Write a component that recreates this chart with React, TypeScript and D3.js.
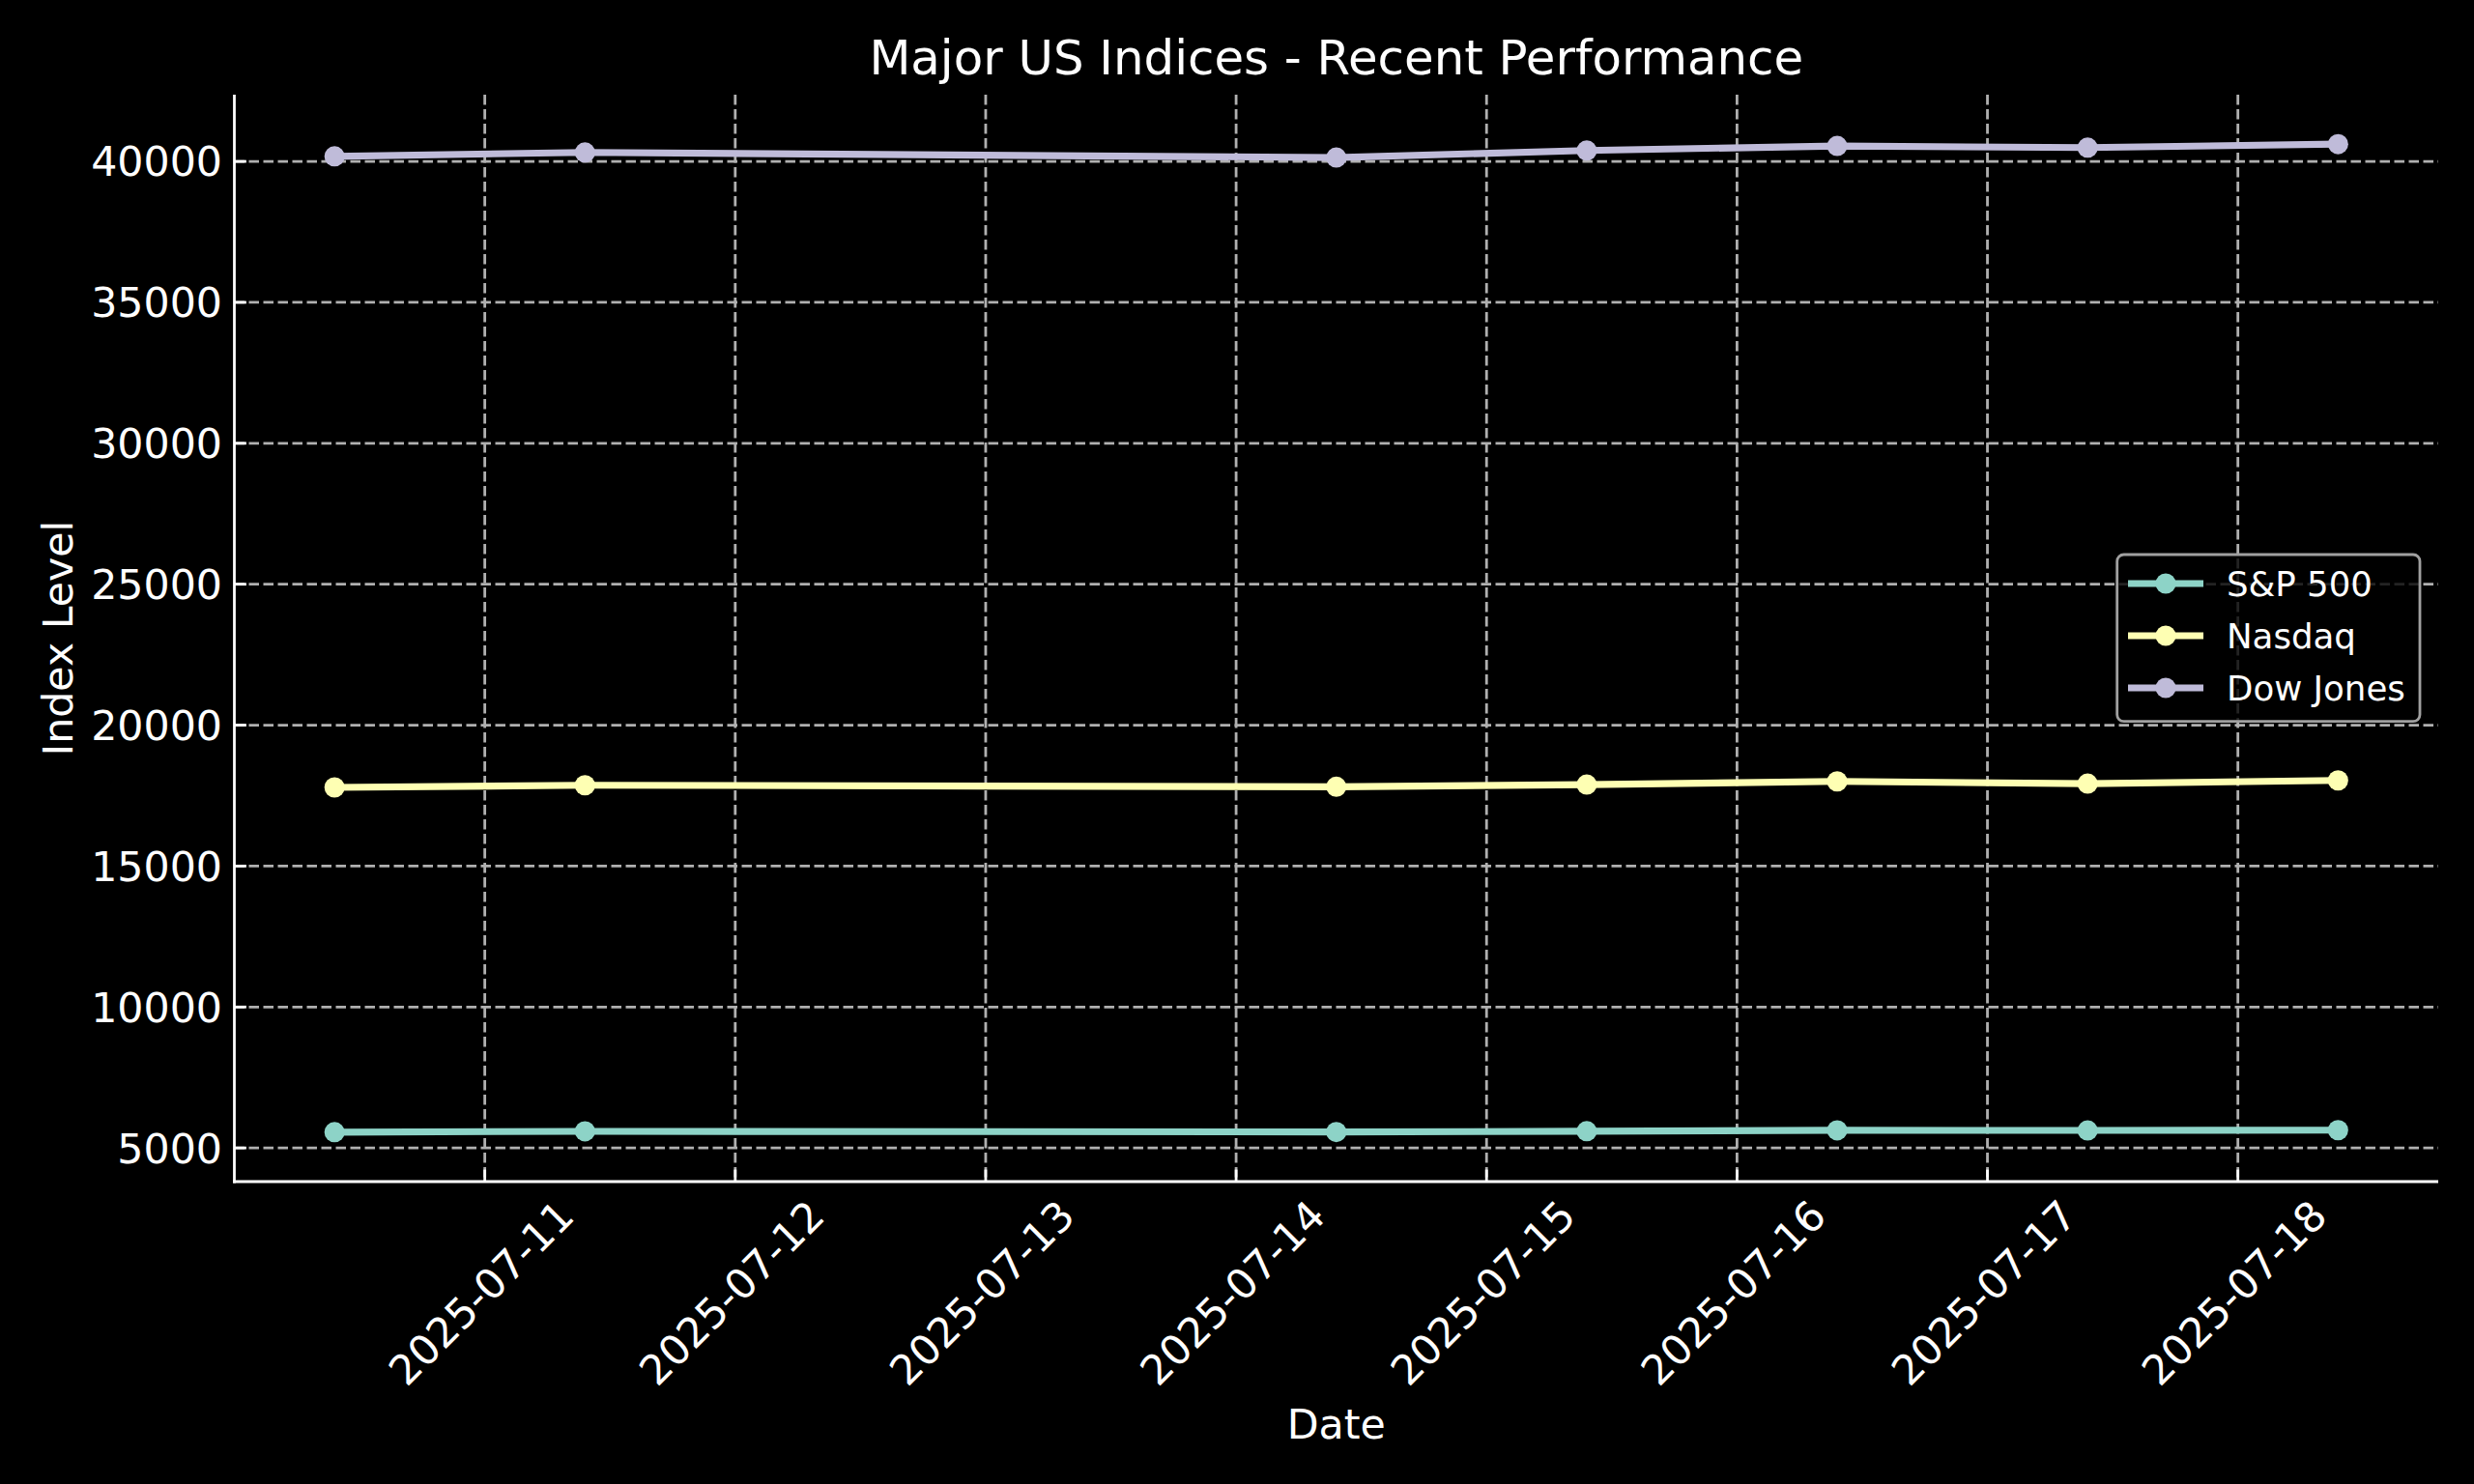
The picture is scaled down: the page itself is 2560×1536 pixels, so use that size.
import React from "react";
import * as d3 from "d3";

const dates: string[] = [
  "2025-07-10T09:36",
  "2025-07-11T09:36",
  "2025-07-14T09:36",
  "2025-07-15T09:36",
  "2025-07-16T09:36",
  "2025-07-17T09:36",
  "2025-07-18T09:36",
];
const sp500: number[] = [5558, 5590, 5565, 5592, 5625, 5620, 5630];
const nasdaq: number[] = [17790, 17868, 17812, 17890, 18004, 17925, 18038];
const dow: number[] = [40180, 40318, 40137, 40386, 40547, 40489, 40615];

const seriesNames: string[] = ["S&P 500", "Nasdaq", "Dow Jones"];
const seriesColors: string[] = ["#8dd3c7", "#feffb3", "#bfbbd9"];
const yTicks: number[] = [5000, 10000, 15000, 20000, 25000, 30000, 35000, 40000];
const xTickDates: string[] = [
  "2025-07-11",
  "2025-07-12",
  "2025-07-13",
  "2025-07-14",
  "2025-07-15",
  "2025-07-16",
  "2025-07-17",
  "2025-07-18",
];

const W = 2560;
const H = 1536;
const M = { left: 242.5, right: 2523, top: 98, bottom: 1223 };
const FONT = "DejaVu Sans, Verdana, sans-serif";

export default function App() {
  const parseT = d3.timeParse("%Y-%m-%dT%H:%M");
  const parseD = d3.timeParse("%Y-%m-%d");
  const xs = dates.map((d) => parseT(d) as Date);
  const allSeries = [sp500, nasdaq, dow];

  const [x0, x1] = d3.extent(xs) as [Date, Date];
  const xPad = (x1.getTime() - x0.getTime()) * 0.05;
  const x = d3
    .scaleTime()
    .domain([new Date(x0.getTime() - xPad), new Date(x1.getTime() + xPad)])
    .range([M.left, M.right]);

  const allVals = allSeries.flat();
  const [y0, y1] = d3.extent(allVals) as [number, number];
  const yPad = (y1 - y0) * 0.05;
  const y = d3.scaleLinear().domain([y0 - yPad, y1 + yPad]).range([M.bottom, M.top]);

  const line = d3
    .line<number>()
    .x((_, i) => x(xs[i]))
    .y((v) => y(v));

  const gridStroke = "#b0b0b0";
  const dash = "10.5,4.5";

  const legendX = 2190.7;
  const legendY = 574;
  const legendRows = [604, 658, 712];

  return (
    <svg
      width={W}
      height={H}
      viewBox={`0 0 ${W} ${H}`}
      style={{ position: "absolute", left: 0, top: 0, display: "block" }}
      fontFamily={FONT}
    >
      <rect x={0} y={0} width={W} height={H} fill="#000" />

      {/* grid */}
      {xTickDates.map((d) => {
        const px = x(parseD(d) as Date);
        return (
          <line
            key={"gx" + d}
            x1={px}
            x2={px}
            y1={M.top}
            y2={M.bottom}
            stroke={gridStroke}
            strokeWidth={2.8}
            strokeDasharray={dash}
          />
        );
      })}
      {yTicks.map((t) => (
        <line
          key={"gy" + t}
          x1={M.left}
          x2={M.right}
          y1={y(t)}
          y2={y(t)}
          stroke={gridStroke}
          strokeWidth={2.8}
          strokeDasharray={dash}
        />
      ))}

      {/* series */}
      {allSeries.map((vals, si) => (
        <g key={"s" + si}>
          <path
            d={line(vals) as string}
            fill="none"
            stroke={seriesColors[si]}
            strokeWidth={7.1}
            strokeLinejoin="round"
            strokeLinecap="butt"
          />
          {vals.map((v, i) => (
            <circle key={i} cx={x(xs[i])} cy={y(v)} r={10.5} fill={seriesColors[si]} />
          ))}
        </g>
      ))}

      {/* spines */}
      <line x1={M.left} x2={M.left} y1={M.top} y2={M.bottom + 1.4} stroke="#fff" strokeWidth={2.8} />
      <line x1={M.left - 1.4} x2={M.right} y1={M.bottom} y2={M.bottom} stroke="#fff" strokeWidth={2.8} />

      {/* y ticks */}
      {yTicks.map((t) => (
        <g key={"yt" + t}>
          <line x1={M.left} x2={M.left + 12.4} y1={y(t)} y2={y(t)} stroke="#fff" strokeWidth={2.8} />
          <text x={230} y={y(t)} dy="0.36em" textAnchor="end" fill="#fff" fontSize={42.7}>
            {t}
          </text>
        </g>
      ))}

      {/* x ticks */}
      {xTickDates.map((d) => {
        const px = x(parseD(d) as Date);
        return (
          <g key={"xt" + d}>
            <line x1={px} x2={px} y1={M.bottom} y2={M.bottom - 12.4} stroke="#fff" strokeWidth={2.8} />
            <text
              transform={`translate(${px - 4},1338) rotate(-45)`}
              dy="0.36em"
              textAnchor="middle"
              fill="#fff"
              fontSize={42.7}
            >
              {d}
            </text>
          </g>
        );
      })}

      {/* labels */}
      <text x={(M.left + M.right) / 2} y={76.7} textAnchor="middle" fill="#fff" fontSize={49.8}>
        Major US Indices - Recent Performance
      </text>
      <text x={(M.left + M.right) / 2} y={1489} textAnchor="middle" fill="#fff" fontSize={42.7}>
        Date
      </text>
      <text
        transform={`translate(75,${(M.top + M.bottom) / 2}) rotate(-90)`}
        textAnchor="middle"
        fill="#fff"
        fontSize={42.7}
      >
        Index Level
      </text>

      {/* legend */}
      <rect
        x={legendX}
        y={legendY}
        width={313.3}
        height={172.7}
        rx={7}
        ry={7}
        fill="#000"
        fillOpacity={0.8}
        stroke="#a0a0a0"
        strokeWidth={2.8}
      />
      {seriesNames.map((name, i) => (
        <g key={"lg" + name}>
          <line
            x1={2202}
            x2={2280}
            y1={legendRows[i]}
            y2={legendRows[i]}
            stroke={seriesColors[i]}
            strokeWidth={7.1}
          />
          <circle cx={2241} cy={legendRows[i]} r={10.5} fill={seriesColors[i]} />
          <text x={2304} y={legendRows[i]} dy="0.36em" fill="#fff" fontSize={35.6}>
            {name}
          </text>
        </g>
      ))}
    </svg>
  );
}
